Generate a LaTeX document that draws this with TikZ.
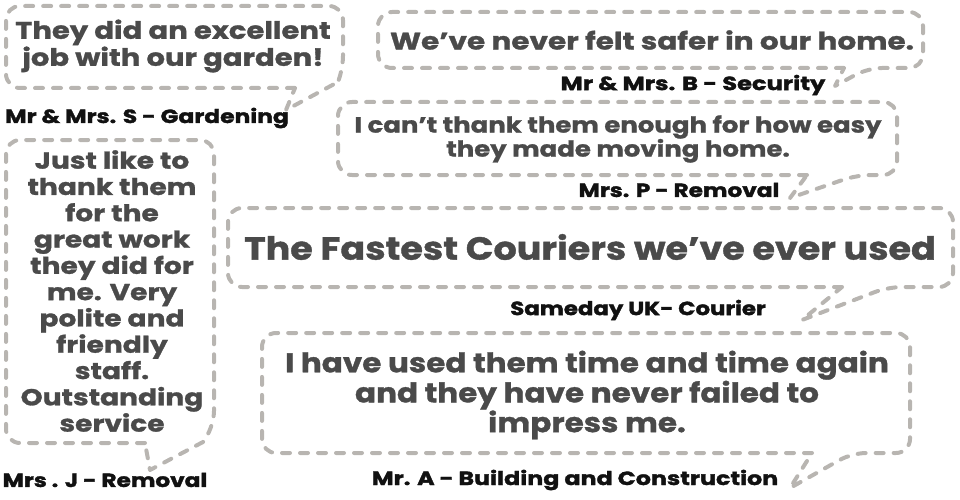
\documentclass[tikz,border=0pt]{standalone}
\usepackage{fontspec}
\setmainfont{Poppins}
\definecolor{dashgray}{RGB}{184,181,177}
\definecolor{quotegray}{RGB}{74,74,74}
\definecolor{namegray}{RGB}{17,17,17}
\newcommand\fs[2]{\fontsize{#1}{#2}\selectfont}
\newcommand\qfont[3]{\bfseries\fontsize{#1}{#2}\selectfont\addfontfeatures{FakeStretch=#3,FakeBold=1.2}}
\newcommand\afont[1]{\bfseries\fontsize{19}{21}\selectfont\addfontfeatures{FakeStretch=#1,FakeBold=1.8}}
\tikzset{
  bubble/.style={draw=dashgray, line width=4pt, dash pattern=on 8pt off 10pt, line cap=round, line join=round},
  quote/.style={text=quotegray, align=center, inner sep=0pt},
  author/.style={text=namegray, inner sep=0pt}
}
\begin{document}
\begin{tikzpicture}[x=1pt,y=-1pt]
\useasboundingbox (0,0) rectangle (960,500);
% bubble 1 (garden)
\draw[bubble] (295,88) [rounded corners=14pt] -- (6,88) -- (6,6) -- (343,6) -- (343,70) [sharp corners] -- (338,82) -- (286,110) -- cycle;
\node[quote, font=\qfont{24}{27}{1.21}] (q1) at (173,46) {They did an excellent\\job with our garden!};
\node[author, font=\afont{1.23}] (a1) at (147,118) {Mr \& Mrs. S - Gardening};
% bubble 2 (security)
\draw[bubble] (844,68) [rounded corners=14pt] -- (378,68) -- (378,12) -- (923,12) -- (923,68) -- (868,68) [sharp corners] -- (835,86) -- cycle;
\node[quote, font=\qfont{24}{27}{1.23}] (q2) at (652,40) {We’ve never felt safer in our home.};
\node[author, font=\afont{1.27}] (a2) at (693,85) {Mr \& Mrs. B - Security};
% bubble 3 (removal P)
\draw[bubble] (807,175) [rounded corners=14pt] -- (338,175) -- (338,102) -- (897,102) -- (897,175) -- (857,175) [sharp corners] -- (790,198) -- cycle;
\node[quote, font=\qfont{22}{24}{1.18}] (q3) at (618,139) {I can’t thank them enough for how easy\\they made moving home.};
\node[author, font=\afont{1.22}] (a3) at (679,190) {Mrs. P - Removal};
% bubble 4 (courier)
\draw[bubble] (842,287) [rounded corners=14pt] -- (228,287) -- (228,208) -- (953,208) -- (953,287) -- (888,287) [sharp corners] -- (802,320) -- cycle;
\node[quote, font=\qfont{32}{34}{1.14}] (q4) at (590,247) {The Fastest Couriers we’ve ever used};
\node[author, font=\afont{1.2}] (a4) at (638,310) {Sameday UK- Courier};
% bubble 5 (building)
\draw[bubble] (812,453) [rounded corners=14pt] -- (262,453) -- (262,333) -- (910,333) -- (910,453) -- (852,453) [sharp corners] -- (790,488) -- cycle;
\node[quote, font=\qfont{27}{28}{1.15}] (q5) at (587,395) {I have used them time and time again\\and they have never failed to\\impress me.};
\node[author, font=\afont{1.25}] (a5) at (575,480) {Mr. A - Building and Construction};
% bubble 6 (removal J)
\draw[bubble] (145,443) [rounded corners=14pt] -- (6,443) -- (6,140) -- (214,140) -- (214,425) [sharp corners] -- (203,442) -- (150,470) -- cycle;
\node[quote, font=\qfont{23}{26.3}{1.22}] (q6) at (112,291) {Just like to\\thank them\\for the\\great work\\they did for\\me. Very\\polite and\\friendly\\staff.\\Outstanding\\service};
\node[author, font=\afont{1.22}] (a6) at (105,480) {Mrs . J - Removal};
\end{tikzpicture}
\end{document}
